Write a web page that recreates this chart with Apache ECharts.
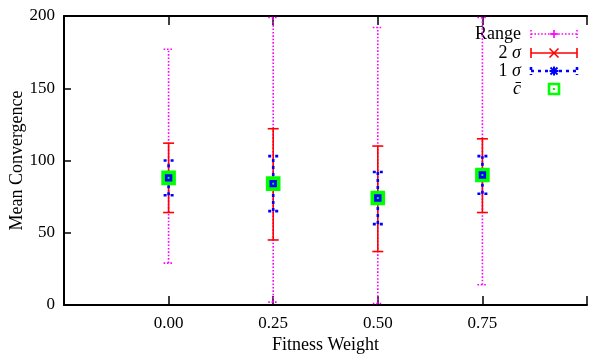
<!DOCTYPE html>
<html>
<head>
<meta charset="utf-8">
<script src="https://cdn.jsdelivr.net/npm/echarts@6/dist/echarts.min.js"></script>
<style>html,body{margin:0;padding:0;background:#fff}#c{width:593px;height:356px}</style>
</head>
<body>
<div id="c"></div>
<script>
const categories = [0.00, 0.25, 0.50, 0.75];
const rangeMin = [29, 2, 1, 14];
const rangeMax = [177, 199, 192, 199];
const sigma2Low = [64, 45, 37, 64];
const sigma2High = [112, 122, 110, 115];
const sigma1Low = [76, 65, 56, 77];
const sigma1High = [100, 103, 92, 103];
const means = [88, 84, 74, 90];
const xTickLabels = ['0.00', '0.25', '0.50', '0.75'];
const yTickLabels = ['0', '50', '100', '150', '200'];

const FONT = 'Liberation Serif';
const MAG = '#ff00ff', RED = '#ff0000', BLUE = '#0000ff', GREEN = '#00ff00';

const data = categories.map((c, i) => [c, rangeMin[i], rangeMax[i], sigma2Low[i], sigma2High[i], sigma1Low[i], sigma1High[i], means[i]]);

function bar(x, lo, hi, capW, style) {
  return [
    {type: 'line', shape: {x1: x, y1: lo, x2: x, y2: hi}, style: style},
    {type: 'line', shape: {x1: x - capW, y1: lo, x2: x + capW, y2: lo}, style: style},
    {type: 'line', shape: {x1: x - capW, y1: hi, x2: x + capW, y2: hi}, style: style}
  ];
}

const dotStyle = {stroke: MAG, lineWidth: 1.6, lineDash: [1.6, 1.8], fill: null};
const redStyle = {stroke: RED, lineWidth: 1.6, fill: null};
const blueStyle = {stroke: BLUE, lineWidth: 2.6, lineDash: [3, 4], fill: null};

function renderItem(params, api) {
  const x = api.coord([api.value(0), 0])[0];
  const y = v => api.coord([api.value(0), api.value(v)])[1];
  const m = y(7);
  const children = []
    .concat(bar(x, y(1), y(2), 5, dotStyle))
    .concat(bar(x, y(3), y(4), 5.5, redStyle))
    .concat(bar(x, y(5), y(6), 5, blueStyle));
  children.push({type: 'rect', shape: {x: x - 5.5, y: m - 5.5, width: 11, height: 11}, style: {stroke: GREEN, lineWidth: 3.6, fill: BLUE}});
  children.push({type: 'rect', shape: {x: x - 1, y: m - 1, width: 2, height: 2}, style: {fill: GREEN}});
  return {type: 'group', children: children};
}

const chart = echarts.init(document.getElementById('c'), null, {renderer: 'canvas'});

const lx1 = 531, lx2 = 577, lxc = 554, ltx = 521;
const rows = [34, 53, 71, 89];
function legendBar(yc, capH, style) {
  return [
    {type: 'line', shape: {x1: lx1, y1: yc, x2: lx2, y2: yc}, style: style},
    {type: 'line', shape: {x1: lx1, y1: yc - capH, x2: lx1, y2: yc + capH}, style: style},
    {type: 'line', shape: {x1: lx2, y1: yc - capH, x2: lx2, y2: yc + capH}, style: style}
  ];
}
const TS = 18;
const textStyle = (t, yc) => ({type: 'text', x: ltx, y: yc, style: {text: t, font: TS + 'px ' + FONT, fill: '#000', textAlign: 'right', textVerticalAlign: 'middle'}});
const sigmaText = (n, yc) => ({type: 'text', x: ltx, y: yc, style: {text: '{a|' + n + ' }{b|σ}', rich: {a: {font: TS + 'px ' + FONT}, b: {font: 'italic ' + TS + 'px ' + FONT}}, fill: '#000', textAlign: 'right', textVerticalAlign: 'middle'}});
const graphics = []
  .concat([textStyle('Range', rows[0])])
  .concat(legendBar(rows[0], 4, dotStyle))
  .concat([
    {type: 'line', shape: {x1: lxc - 4, y1: rows[0], x2: lxc + 4, y2: rows[0]}, style: {stroke: MAG, lineWidth: 1.6}},
    {type: 'line', shape: {x1: lxc, y1: rows[0] - 4, x2: lxc, y2: rows[0] + 4}, style: {stroke: MAG, lineWidth: 1.6}}
  ])
  .concat([sigmaText('2', rows[1])])
  .concat(legendBar(rows[1], 5, redStyle))
  .concat([
    {type: 'line', shape: {x1: lxc - 4.5, y1: rows[1] - 4.5, x2: lxc + 4.5, y2: rows[1] + 4.5}, style: {stroke: RED, lineWidth: 1.6}},
    {type: 'line', shape: {x1: lxc - 4.5, y1: rows[1] + 4.5, x2: lxc + 4.5, y2: rows[1] - 4.5}, style: {stroke: RED, lineWidth: 1.6}}
  ])
  .concat([sigmaText('1', rows[2])])
  .concat(legendBar(rows[2], 4, blueStyle))
  .concat([
    {type: 'line', shape: {x1: lxc - 4.5, y1: rows[2], x2: lxc + 4.5, y2: rows[2]}, style: {stroke: BLUE, lineWidth: 2}},
    {type: 'line', shape: {x1: lxc, y1: rows[2] - 4.5, x2: lxc, y2: rows[2] + 4.5}, style: {stroke: BLUE, lineWidth: 2}},
    {type: 'line', shape: {x1: lxc - 3.5, y1: rows[2] - 3.5, x2: lxc + 3.5, y2: rows[2] + 3.5}, style: {stroke: BLUE, lineWidth: 2}},
    {type: 'line', shape: {x1: lxc - 3.5, y1: rows[2] + 3.5, x2: lxc + 3.5, y2: rows[2] - 3.5}, style: {stroke: BLUE, lineWidth: 2}}
  ])
  .concat([{type: 'text', x: ltx, y: rows[3], style: {text: 'c̄', font: 'italic ' + TS + 'px ' + FONT, fill: '#000', textAlign: 'right', textVerticalAlign: 'middle'}}])
  .concat([
    {type: 'rect', shape: {x: lxc - 5, y: rows[3] - 5, width: 10, height: 10}, style: {stroke: GREEN, lineWidth: 2.6, fill: null}},
    {type: 'rect', shape: {x: lxc - 1, y: rows[3] - 1, width: 2, height: 2}, style: {fill: GREEN}}
  ]);

chart.setOption({
  animation: false,
  backgroundColor: '#fff',
  grid: {left: 64, right: 6, top: 16, bottom: 51, containLabel: false, outerBoundsMode: 'none'},
  xAxis: [
    {
      type: 'value', min: -0.25, max: 1.0, interval: 0.25, position: 'bottom',
      name: 'Fitness Weight', nameLocation: 'middle', nameGap: 31, nameMoveOverlap: false,
      nameTextStyle: {fontFamily: FONT, fontSize: 18, color: '#000'},
      axisLine: {show: true, onZero: false, lineStyle: {color: '#000', width: 2}},
      axisTick: {show: true, inside: true, length: 9, lineStyle: {color: '#000', width: 1.5}},
      axisLabel: {fontFamily: FONT, fontSize: 17, color: '#000', margin: 10,
        formatter: v => { const i = categories.findIndex(c => Math.abs(c - v) < 1e-9); return i >= 0 ? xTickLabels[i] : ''; }},
      splitLine: {show: false}
    },
    {
      type: 'value', min: -0.25, max: 1.0, interval: 0.25, position: 'top',
      axisLine: {show: true, onZero: false, lineStyle: {color: '#000', width: 2}},
      axisTick: {show: true, inside: true, length: 9, lineStyle: {color: '#000', width: 1.5}},
      axisLabel: {show: false}, splitLine: {show: false}
    }
  ],
  yAxis: {
    type: 'value', min: 0, max: 200, interval: 50, position: 'left',
    name: 'Mean Convergence', nameLocation: 'middle', nameGap: 38, nameMoveOverlap: false,
    nameTextStyle: {fontFamily: FONT, fontSize: 18, color: '#000'},
    axisLine: {show: true, onZero: false, lineStyle: {color: '#000', width: 2}},
    axisTick: {show: true, inside: true, length: 7, lineStyle: {color: '#000', width: 1.5}},
    axisLabel: {fontFamily: FONT, fontSize: 17, color: '#000', margin: 9,
      formatter: v => yTickLabels[Math.round(v / 50)]},
    splitLine: {show: false}
  },
  series: [{
    type: 'custom', renderItem: renderItem, data: data, clip: false,
    encode: {x: 0, y: [1, 2, 3, 4, 5, 6, 7]}
  }],
  graphic: graphics
});
</script>
</body>
</html>
